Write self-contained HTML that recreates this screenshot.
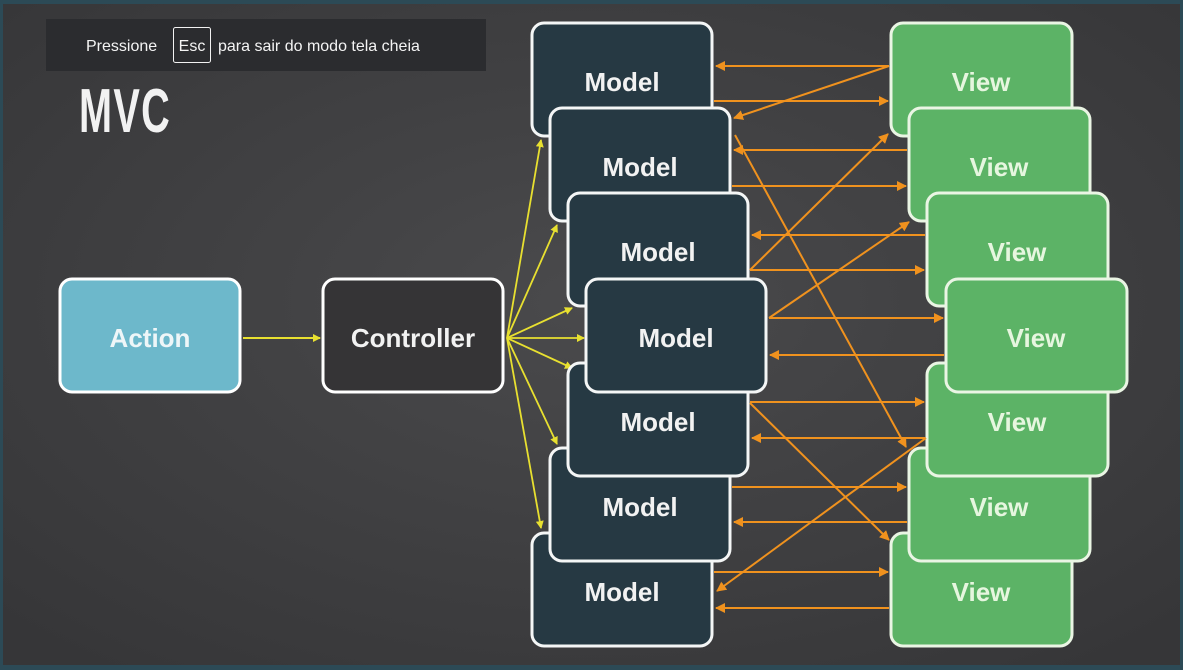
<!DOCTYPE html>
<html><head><meta charset="utf-8"><style>
html,body{margin:0;padding:0;width:1183px;height:670px;overflow:hidden;background:#3c3c3e}
svg{display:block}
</style></head><body>
<svg width="1183" height="670" viewBox="0 0 1183 670" xmlns="http://www.w3.org/2000/svg">
<defs>
<radialGradient id="bg" cx="0.5" cy="0.45" r="0.7"><stop offset="0" stop-color="#4a4a4c"/><stop offset="1" stop-color="#363638"/></radialGradient>
<marker id="ya" markerWidth="8" markerHeight="8" refX="7" refY="4" orient="auto" markerUnits="userSpaceOnUse"><path d="M0,0 L8,4 L0,8 Z" fill="#e8e030"/></marker>
<marker id="oa" markerWidth="10" markerHeight="10" refX="9" refY="5" orient="auto" markerUnits="userSpaceOnUse"><path d="M0,0 L10,5 L0,10 Z" fill="#f0921e"/></marker>
</defs>
<rect width="1183" height="670" fill="#2c4a56"/>
<rect x="3" y="4" width="1177" height="661" fill="url(#bg)"/>

<text x="79" y="132" font-family="Liberation Sans, sans-serif" font-weight="bold" font-size="62" fill="#f2f2f2" transform="translate(79 0) scale(0.64 1) translate(-79 0)" letter-spacing="2">MVC</text>

<!-- Action / Controller -->
<rect x="60" y="279" width="180" height="113" rx="12" fill="#6db8cb" stroke="#fff" stroke-width="3"/>
<text x="150" y="347" text-anchor="middle" font-family="Liberation Sans, sans-serif" font-weight="bold" font-size="26" fill="#eef6f8">Action</text>
<rect x="323" y="279" width="180" height="113" rx="12" fill="#353436" stroke="#fff" stroke-width="3"/>
<text x="413" y="347" text-anchor="middle" font-family="Liberation Sans, sans-serif" font-weight="bold" font-size="26" fill="#f2f2f2">Controller</text>
<line x1="243" y1="338" x2="320" y2="338" stroke="#e8e030" stroke-width="2" marker-end="url(#ya)"/>

<!-- yellow fan -->
<g stroke="#e8e030" stroke-width="1.8" marker-end="url(#ya)">
<line x1="507" y1="338" x2="541" y2="140"/>
<line x1="507" y1="338" x2="557" y2="225"/>
<line x1="507" y1="338" x2="572" y2="308"/>
<line x1="507" y1="338" x2="584" y2="338"/>
<line x1="507" y1="338" x2="572" y2="368"/>
<line x1="507" y1="338" x2="557" y2="444"/>
<line x1="507" y1="338" x2="541" y2="528"/>
</g>

<!-- Views stack -->
<g stroke="#eaf5e4" stroke-width="3" fill="#5cb366">
<rect x="891" y="23" width="181" height="113" rx="12"/>
<rect x="891" y="533" width="181" height="113" rx="12"/>
<rect x="909" y="108" width="181" height="113" rx="12"/>
<rect x="909" y="448" width="181" height="113" rx="12"/>
<rect x="927" y="193" width="181" height="113" rx="12"/>
<rect x="927" y="363" width="181" height="113" rx="12"/>
<rect x="946" y="279" width="181" height="113" rx="12"/>
</g>
<g fill="#e6f6df" font-family="Liberation Sans, sans-serif" font-weight="bold" font-size="26" text-anchor="middle">
<text x="981" y="91">View</text>
<text x="999" y="176">View</text>
<text x="1017" y="261">View</text>
<text x="1017" y="431">View</text>
<text x="999" y="516">View</text>
<text x="981" y="601">View</text>
<text x="1036" y="347">View</text>
</g>

<!-- Models stack -->
<g stroke="#f4f6f6" stroke-width="3" fill="#263943">
<rect x="532" y="23" width="180" height="113" rx="12"/>
<rect x="532" y="533" width="180" height="113" rx="12"/>
<rect x="550" y="108" width="180" height="113" rx="12"/>
<rect x="550" y="448" width="180" height="113" rx="12"/>
<rect x="568" y="193" width="180" height="113" rx="12"/>
<rect x="568" y="363" width="180" height="113" rx="12"/>
<rect x="586" y="279" width="180" height="113" rx="12"/>
</g>
<g fill="#f2f2f2" font-family="Liberation Sans, sans-serif" font-weight="bold" font-size="26" text-anchor="middle">
<text x="622" y="91">Model</text>
<text x="640" y="176">Model</text>
<text x="658" y="261">Model</text>
<text x="658" y="431">Model</text>
<text x="640" y="516">Model</text>
<text x="622" y="601">Model</text>
<text x="676" y="347">Model</text>
</g>

<!-- orange arrows -->
<g stroke="#f0921e" stroke-width="2" marker-end="url(#oa)">
<line x1="889" y1="66" x2="716" y2="66"/>
<line x1="714" y1="101" x2="888" y2="101"/>
<line x1="907" y1="150" x2="734" y2="150"/>
<line x1="732" y1="186" x2="906" y2="186"/>
<line x1="925" y1="235" x2="752" y2="235"/>
<line x1="750" y1="270" x2="924" y2="270"/>
<line x1="769" y1="318" x2="943" y2="318"/>
<line x1="944" y1="355" x2="770" y2="355"/>
<line x1="750" y1="402" x2="924" y2="402"/>
<line x1="925" y1="438" x2="752" y2="438"/>
<line x1="732" y1="487" x2="906" y2="487"/>
<line x1="907" y1="522" x2="734" y2="522"/>
<line x1="714" y1="572" x2="888" y2="572"/>
<line x1="889" y1="608" x2="716" y2="608"/>
<line x1="889" y1="66" x2="734" y2="118"/>
<line x1="735" y1="135" x2="906" y2="447"/>
<line x1="750" y1="270" x2="888" y2="134"/>
<line x1="769" y1="318" x2="909" y2="222"/>
<line x1="750" y1="403" x2="889" y2="540"/>
<line x1="926" y1="438" x2="717" y2="591"/>
</g>

<!-- fullscreen toast -->
<rect x="46" y="19" width="440" height="52" fill="#2b2c2f"/>
<rect x="173.5" y="27.5" width="37" height="35" rx="2" fill="none" stroke="#f2f2f2" stroke-width="1"/>
<g font-family="Liberation Sans, sans-serif" font-size="16" fill="#f4f4f4">
<text x="86" y="51">Pressione</text>
<text x="192" y="51" text-anchor="middle">Esc</text>
<text x="218" y="51">para sair do modo tela cheia</text>
</g>
</svg>
</body></html>
